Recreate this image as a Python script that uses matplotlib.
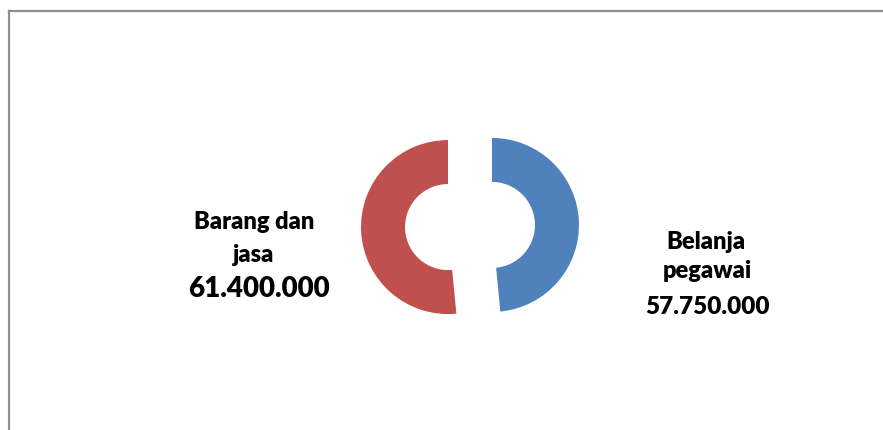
import matplotlib
matplotlib.use('Agg')
import matplotlib.pyplot as plt
from matplotlib.lines import Line2D

# data
categories = ['Belanja pegawai', 'Barang dan jasa']
values = [57750000, 61400000]
value_labels = ['57.750.000', '61.400.000']
colors = ['#4F81BD', '#C0504D']

W, H = 883, 430
fig = plt.figure(figsize=(W / 100, H / 100), dpi=100)
fig.patch.set_facecolor('white')

# axes in pixel units (y up)
ax = fig.add_axes([0, 0, 1, 1])
ax.pie(values, colors=colors, startangle=90, counterclock=False,
       center=(470, H - 226), radius=87, explode=[22, 22],
       wedgeprops=dict(width=44, edgecolor='none'), frame=True)
ax.set_xlim(0, W)
ax.set_ylim(0, H)
ax.set_aspect('equal')
ax.axis('off')

# chart frame (top and left edge only)
fig.add_artist(Line2D([8.5 / W, 1], [1 - 10.5 / H, 1 - 10.5 / H],
                      color='#8e8e8e', lw=1.6, transform=fig.transFigure))
fig.add_artist(Line2D([8.5 / W, 8.5 / W], [1 - 10.5 / H, 0],
                      color='#8e8e8e', lw=1.6, transform=fig.transFigure))

font = ['Lato', 'DejaVu Sans']
kw = dict(ha='center', va='baseline', fontweight='heavy', family=font, color='black')

# left label
ax.text(254, H - 229, 'Barang dan', fontsize=17, **kw)
ax.text(254, H - 262, 'jasa', fontsize=17, **kw)
ax.text(259, H - 297, value_labels[1], fontsize=20, **kw)

# right label
ax.text(706, H - 249, 'Belanja', fontsize=17, **kw)
ax.text(707, H - 278, 'pegawai', fontsize=17, **kw)
ax.text(707, H - 314, value_labels[0], fontsize=17.5, **kw)

fig.savefig('out.png', dpi=100, facecolor='white')
